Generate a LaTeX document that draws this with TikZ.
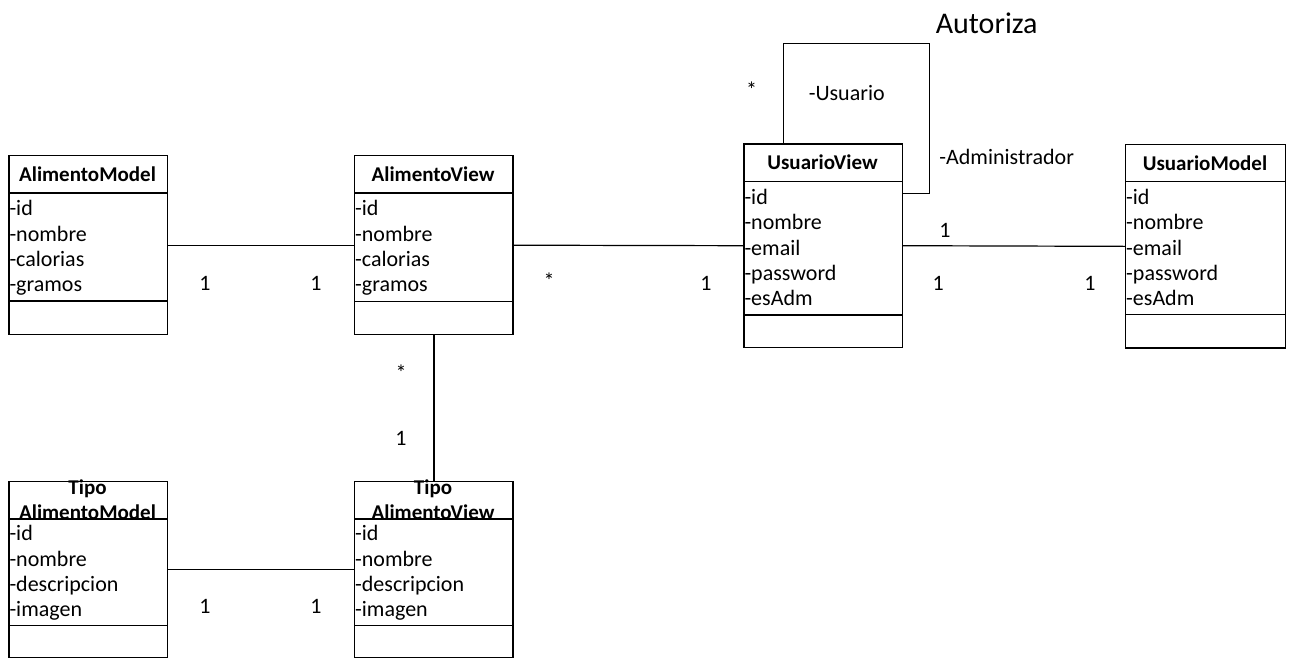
\documentclass[tikz,border=0pt]{standalone}
\usepackage{fontspec}
\setmainfont{Carlito}
\newcommand\myfs{\fontsize{22}{25.3}\selectfont}
\newcommand\myhfs{\fontsize{21}{25}\selectfont}
\tikzset{
  umlbox/.style={draw, line width=1.4pt, rectangle, inner sep=0pt, minimum width=158.4pt, anchor=north west},
  hdr/.style={font=\myhfs\bfseries, align=center, inner sep=0pt},
  attrs/.style={font=\myfs, align=left, anchor=west, inner sep=0pt, xshift=1pt},
  mult/.style={font=\myfs, inner sep=0pt},
  sepline/.style={line width=1.4pt},
  conn/.style={line width=1.2pt},
}
\begin{document}
\begin{tikzpicture}[x=1pt,y=-1pt]
\useasboundingbox (0,0) rectangle (1289,659);

% boxes
\node[umlbox, minimum height=179pt] (am) at (8.3,155) {};
\node[umlbox, minimum height=179pt] (av) at (354,155) {};
\node[umlbox, minimum height=176pt] (tam) at (8.3,481) {};
\node[umlbox, minimum height=176pt] (tav) at (354,481) {};
\node[umlbox, minimum height=203.4pt] (uv) at (743.3,143.3) {};
\node[umlbox, minimum height=203.3pt, minimum width=160pt] (um) at (1125,144) {};

% compartments
\draw[sepline] (am.west |- 0,193) -- (am.east |- 0,193);
\draw[sepline] (am.west |- 0,301) -- (am.east |- 0,301);
\draw[sepline] (av.west |- 0,193) -- (av.east |- 0,193);
\draw[sepline] (av.west |- 0,301.5) -- (av.east |- 0,301.5);
\draw[sepline] (tam.west |- 0,519) -- (tam.east |- 0,519);
\draw[sepline] (tam.west |- 0,625.5) -- (tam.east |- 0,625.5);
\draw[sepline] (tav.west |- 0,519) -- (tav.east |- 0,519);
\draw[sepline] (tav.west |- 0,625.5) -- (tav.east |- 0,625.5);
\draw[sepline] (uv.west |- 0,181.7) -- (uv.east |- 0,181.7);
\draw[sepline] (uv.west |- 0,315) -- (uv.east |- 0,315);
\draw[sepline] (um.west |- 0,181.7) -- (um.east |- 0,181.7);
\draw[sepline] (um.west |- 0,314.3) -- (um.east |- 0,314.3);

% headers
\node[hdr] (amh) at (87.5,174) {AlimentoModel};
\node[hdr] (avh) at (433,174) {AlimentoView};
\node[hdr] (tamh) at (87.5,500) {Tipo\\AlimentoModel};
\node[hdr] (tavh) at (433,500) {Tipo\\AlimentoView};
\node[hdr] (uvh) at (822.5,162.5) {UsuarioView};
\node[hdr] (umh) at (1205,163) {UsuarioModel};

% attributes
\node[attrs] (ama) at (am.west |- 0,248) {-id\\-nombre\\-calorias\\-gramos};
\node[attrs] (ava) at (av.west |- 0,248) {-id\\-nombre\\-calorias\\-gramos};
\node[attrs] (tama) at (tam.west |- 0,573) {-id\\-nombre\\-descripcion\\-imagen};
\node[attrs] (tava) at (tav.west |- 0,573) {-id\\-nombre\\-descripcion\\-imagen};
\node[attrs] (uva) at (uv.west |- 0,247.5) {-id\\-nombre\\-email\\-password\\-esAdm};
\node[attrs] (uma) at (um.west |- 0,247.5) {-id\\-nombre\\-email\\-password\\-esAdm};

% connectors
\draw[conn] (am.east) -- (av.west);
\draw[conn] (av.east) -- (uv.west);
\draw[conn] (uv.east) -- (um.west);
\draw[conn] (av.south) -- (tav.north);
\draw[conn] (tam.east) -- (tav.west);
\coordinate (loopc) at (929.3,43.3);
\draw[conn] ([xshift=40pt]uv.north west) |- (loopc) |- ([yshift=52.3pt]uv.east);

% multiplicities and labels
\node[mult] (m1) at (205,283) {1};
\node[mult] (m2) at (316,283) {1};
\node[mult] (m3) at (549,281) {*};
\node[mult] (m4) at (706,283) {1};
\node[mult] (m5) at (401,373) {*};
\node[mult] (m6) at (401,438) {1};
\node[mult] (m7) at (205,606) {1};
\node[mult] (m8) at (316,606) {1};
\node[mult] (m9) at (945,230) {1};
\node[mult] (m10) at (938.3,283) {1};
\node[mult] (m11) at (1090,283) {1};
\node[mult] (m12) at (751.7,90) {*};
\node[mult] (lu) at (846.7,92.7) {-Usuario};
\node[mult] (la) at (1006.7,156.7) {-Administrador};
\node[font=\fontsize{30}{34}\selectfont, inner sep=0pt] (aut) at (986.7,23.5) {Autoriza};
\end{tikzpicture}
\end{document}
